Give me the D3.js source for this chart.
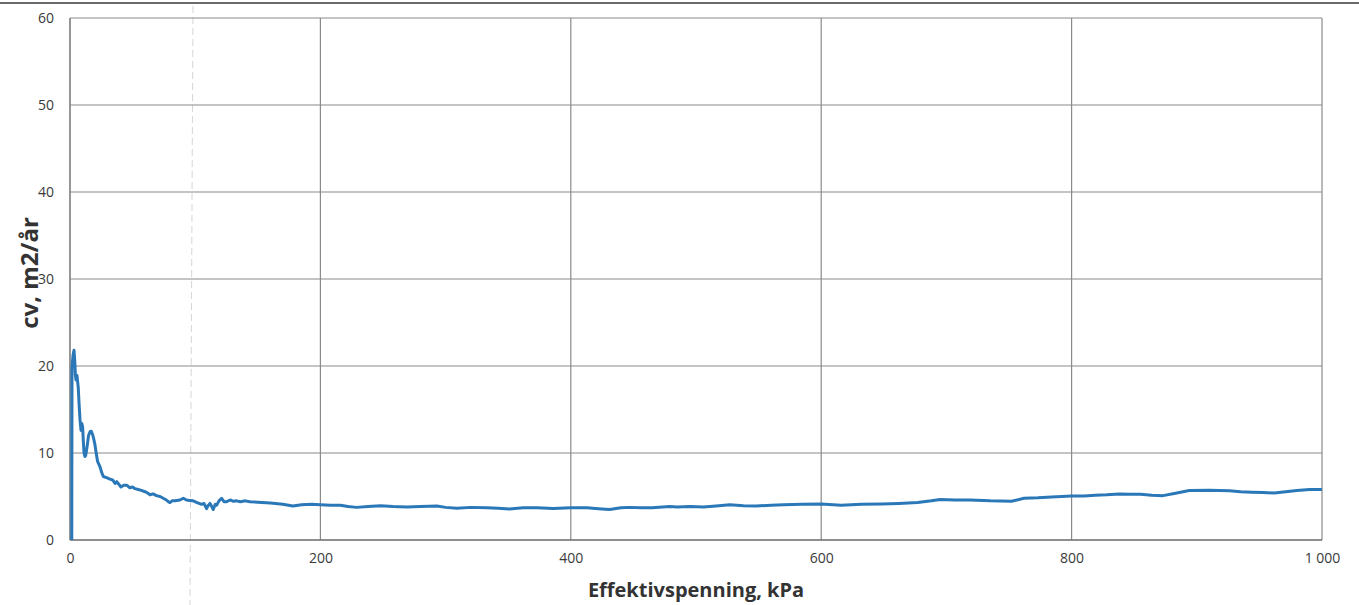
<!DOCTYPE html>
<html>
<head>
<meta charset="utf-8">
<script src="https://cdn.jsdelivr.net/npm/d3@7"></script>
<style>
  html, body { margin: 0; padding: 0; background: #fff; }
  svg { display: block; }
</style>
</head>
<body>
<svg id="chart" width="1359" height="605"></svg>
<script>
// Effective stress (kPa) and consolidation coefficient cv (m2/år)
const effStress = [
  1.4, 1.6, 2.4, 3.2, 3.8, 4.3, 4.8, 5.6, 6.6, 7.3, 8.0, 8.8, 9.4, 10.1, 10.7, 11.2, 12.0, 12.5, 13.2, 13.8,
  14.8, 16.0, 17.0, 18.1, 19.0, 20.0, 21.0, 22.1, 24.0, 25.2, 26.6, 28.5, 30.2, 31.9, 34.0, 36.0, 37.3, 39.0, 40.7, 43.0,
  45.3, 47.8, 50.0, 51.9, 54.5, 57.0, 59.9, 62.0, 63.9, 66.5, 69.0, 71.9, 74.5, 77.0, 78.5, 79.8, 81.5, 84.0, 87.8, 90.5,
  93.0, 95.5, 98.4, 101.5, 105.1, 107.0, 109.1, 110.5, 111.8, 113.0, 114.4, 116.0, 117.1, 119.0, 121.1, 123.0, 125.1, 128.0, 130.5, 133.1,
  136.0, 140.0, 143.7, 150, 160, 170, 178, 185, 193, 200, 208, 216, 222, 229, 238, 248, 258, 269, 280, 293,
  300, 309, 320, 333, 342, 351, 362, 373, 386, 400, 413, 422, 431, 440, 447, 456, 465, 479, 485, 495,
  506, 516, 527, 538, 548, 560, 570, 585, 600, 616, 632, 648, 662, 677, 688, 695, 707, 719, 735, 752,
  762, 773, 784, 800, 810, 819, 828, 838, 847, 855, 864, 873, 882, 894, 910, 926, 935, 944, 953, 962,
  971, 980, 990, 1000
];
const cvValues = [
  0, 19.8, 21.2, 21.8, 20.6, 19.0, 18.4, 18.9, 17.5, 15.5, 13.8, 12.6, 13.4, 13.0, 11.2, 10.0, 9.6, 9.7, 10.3, 10.9,
  12.0, 12.45, 12.5, 12.1, 11.6, 10.9, 9.9, 9.0, 8.4, 7.8, 7.3, 7.2, 7.1, 7.0, 6.9, 6.5, 6.7, 6.4, 6.1, 6.3,
  6.3, 6.0, 6.1, 5.9, 5.8, 5.7, 5.55, 5.4, 5.2, 5.3, 5.1, 5.0, 4.8, 4.6, 4.4, 4.3, 4.5, 4.5, 4.6, 4.8,
  4.6, 4.55, 4.5, 4.3, 4.1, 4.2, 3.6, 4.0, 4.2, 3.9, 3.5, 4.1, 4.0, 4.5, 4.8, 4.4, 4.4, 4.6, 4.45, 4.5,
  4.4, 4.5, 4.4, 4.35, 4.25, 4.1, 3.9, 4.05, 4.1, 4.05, 4.0, 4.0, 3.85, 3.75, 3.85, 3.95, 3.85, 3.8, 3.85, 3.9,
  3.75, 3.65, 3.75, 3.72, 3.65, 3.55, 3.7, 3.72, 3.62, 3.7, 3.7, 3.6, 3.5, 3.7, 3.75, 3.72, 3.7, 3.85, 3.8, 3.85,
  3.78, 3.9, 4.05, 3.95, 3.9, 4.0, 4.05, 4.1, 4.15, 4.0, 4.1, 4.15, 4.2, 4.3, 4.5, 4.65, 4.6, 4.6, 4.5, 4.45,
  4.8, 4.85, 4.95, 5.05, 5.05, 5.15, 5.2, 5.3, 5.25, 5.25, 5.15, 5.1, 5.35, 5.7, 5.72, 5.65, 5.55, 5.5, 5.45, 5.4,
  5.55, 5.7, 5.8, 5.8
];

const xTicks = [0, 200, 400, 600, 800, 1000];
const yTicks = [0, 10, 20, 30, 40, 50, 60];
const xTitle = "Effektivspenning, kPa";
const yTitle = "cv, m2/år";

const W = 1359, H = 605;
const margin = { top: 18, right: 37, bottom: 65, left: 70 };
const svg = d3.select("#chart");
const FONT = "'Open Sans', 'Noto Sans', sans-serif";

const x = d3.scaleLinear().domain([0, 1000]).range([margin.left, W - margin.right]);
const y = d3.scaleLinear().domain([0, 60]).range([H - margin.bottom, margin.top]);

// Paper edge along the top of the sheet
svg.append("line")
  .attr("x1", 0).attr("x2", W).attr("y1", 3).attr("y2", 3)
  .attr("stroke", "#6b6b6b").attr("stroke-width", 2);

// Faint fold line crossing the sheet
svg.append("line")
  .attr("x1", 193).attr("x2", 190).attr("y1", 6).attr("y2", H)
  .attr("stroke", "#d6d6d6").attr("stroke-width", 1)
  .attr("stroke-dasharray", "7,4");

// Vertical grid
svg.append("g")
  .selectAll("line").data(xTicks).join("line")
  .attr("x1", d => x(d)).attr("x2", d => x(d))
  .attr("y1", y(60)).attr("y2", y(0))
  .attr("stroke", d => d === 0 ? "#6a6a6a" : "#8a8a8a")
  .attr("stroke-width", d => d === 0 ? 1.4 : 1.2);

// Horizontal grid
svg.append("g")
  .selectAll("line").data(yTicks).join("line")
  .attr("x1", x(0)).attr("x2", x(1000))
  .attr("y1", d => y(d)).attr("y2", d => y(d))
  .attr("stroke", d => d === 0 ? "#6a6a6a" : "#8a8a8a")
  .attr("stroke-width", d => d === 0 ? 1.4 : 1.2);

// Axes (labels only, lines drawn by the grid)
const xAxis = d3.axisBottom(x).tickValues(xTicks).tickSize(0).tickPadding(13)
  .tickFormat(d => d === 1000 ? "1 000" : String(d));
const gx = svg.append("g").attr("transform", `translate(0,${y(0)})`).call(xAxis);
gx.select(".domain").remove();
gx.selectAll("text")
  .attr("font-family", FONT)
  .attr("font-size", 14).attr("fill", "#3a3a3a");

const yAxis = d3.axisLeft(y).tickValues(yTicks).tickSize(0).tickPadding(16);
const gy = svg.append("g").attr("transform", `translate(${x(0)},0)`).call(yAxis);
gy.select(".domain").remove();
gy.selectAll("text")
  .attr("font-family", FONT)
  .attr("font-size", 14).attr("fill", "#3a3a3a");

// cv curve
const pts = effStress.map((s, i) => [s, cvValues[i]]);
svg.append("path")
  .datum(pts)
  .attr("fill", "none")
  .attr("stroke", "#2a78b8")
  .attr("stroke-width", 3)
  .attr("stroke-linejoin", "round")
  .attr("d", d3.line().x(d => x(d[0])).y(d => y(d[1])));

// Axis titles
svg.append("text")
  .attr("x", 696).attr("y", 597)
  .attr("text-anchor", "middle")
  .attr("font-family", FONT)
  .attr("font-weight", "bold").attr("font-size", 20).attr("fill", "#333")
  .text(xTitle);

svg.append("text")
  .attr("transform", `translate(38,${(y(0) + y(60)) / 2 - 6}) rotate(-90)`)
  .attr("text-anchor", "middle")
  .attr("font-family", FONT)
  .attr("font-weight", "bold").attr("font-size", 24).attr("fill", "#333")
  .text(yTitle);
</script>
</body>
</html>
